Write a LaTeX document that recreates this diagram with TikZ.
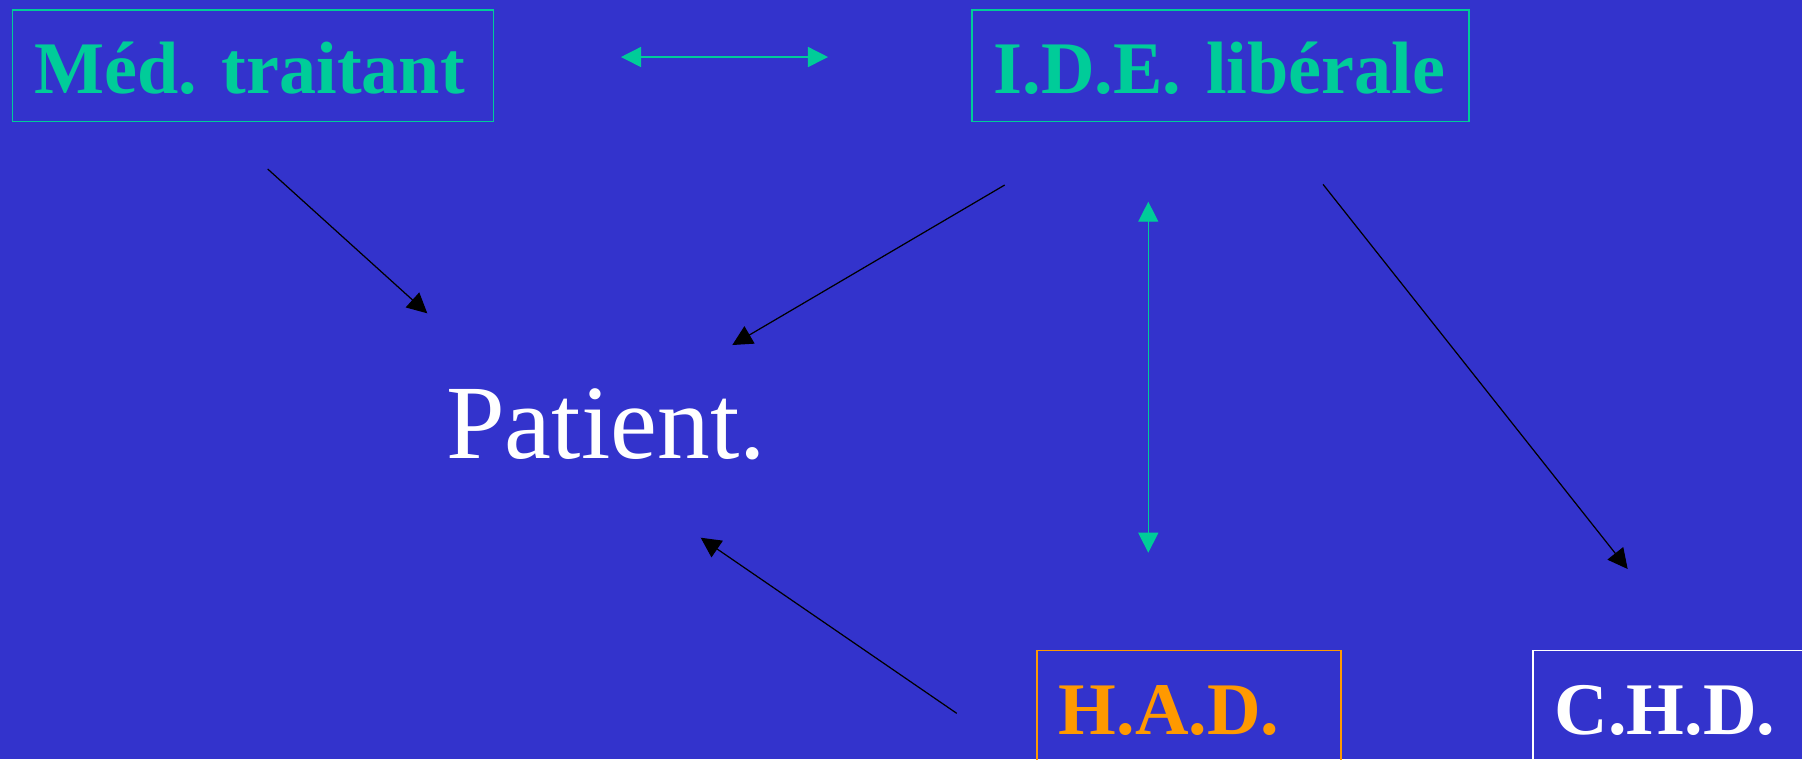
\documentclass[tikz,border=0pt]{standalone}
\usepackage{fontspec}
\setmainfont{Liberation Serif}
\usepackage{tikz}
\usetikzlibrary{arrows.meta, positioning}
\definecolor{bgblue}{HTML}{3333CC}
\definecolor{tgreen}{HTML}{00CC99}
\definecolor{torange}{HTML}{FF9900}
\frenchspacing

\begin{document}
\begin{tikzpicture}[x=0.01cm, y=-0.01cm,
  box/.style={draw, line width=0.45pt, inner xsep=0.22cm, inner ysep=0pt,
              minimum height=1.117cm, text height=0.557cm, text depth=0pt,
              align=left, anchor=north west,
              font=\fontsize{21.1}{24}\selectfont\bfseries},
  pat/.style={anchor=base, inner sep=0pt, text=white,
              font=\fontsize{30}{34}\selectfont},
  arr/.style={-{Triangle[length=0.2cm, width=0.2cm]}, draw=black, line width=0.35pt},
  garr/.style={{Triangle[length=0.2cm, width=0.2cm]}-{Triangle[length=0.2cm, width=0.2cm]},
               draw=tgreen, line width=0.4pt}]
  \fill[bgblue] (0,0) rectangle (1802,759);
  \clip (0,0) rectangle (1802,759);
  % actors
  \node[box, draw=tgreen, text=tgreen, text width=4.37cm] (med) at (11.5,9) {Méd. traitant};
  \node[box, draw=tgreen, text=tgreen, text width=4.53cm] (ide) at (971,9) {I.D.E. libérale};
  \node[box, draw=torange, text=torange, text width=2.60cm] (had) at (1036,649.5) {H.A.D.};
  \node[box, draw=white, text=white, text width=2.60cm] (chd) at (1532,649.5) {C.H.D.};
  \node[pat] (patient) at (606,458) {Patient.};
  % arrow ends
  \coordinate (med-out)  at (267.7,169);
  \coordinate (pat-in-a) at (427.3,313.3);
  \coordinate (ide-out-a) at (1004.7,185);
  \coordinate (pat-in-b) at (732.3,345);
  \coordinate (ide-out-b) at (1323,184.3);
  \coordinate (chd-in)   at (1627.7,569);
  \coordinate (had-out)  at (956.7,713.3);
  \coordinate (pat-in-c) at (700.7,537.7);
  \coordinate (link-l) at (621,57);
  \coordinate (link-r) at (828,57);
  \coordinate (link-t) at (1148.3,201.7);
  \coordinate (link-b) at (1148.3,552.7);
  \draw[arr] (med-out) -- (pat-in-a);
  \draw[arr] (ide-out-a) -- (pat-in-b);
  \draw[arr] (ide-out-b) -- (chd-in);
  \draw[arr] (had-out) -- (pat-in-c);
  \draw[garr] (link-l) -- (link-r);
  \draw[garr] (link-t) -- (link-b);
\end{tikzpicture}
\end{document}
